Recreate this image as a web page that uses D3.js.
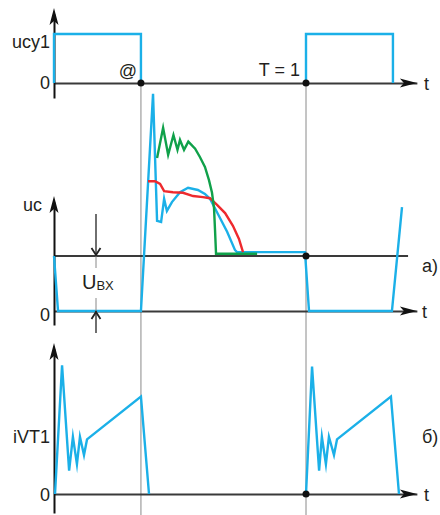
<!DOCTYPE html>
<html>
<head>
<meta charset="utf-8">
<script src="https://cdn.jsdelivr.net/npm/d3@7"></script>
<style>
    body { margin: 0; background: #fff; }
    text { font-family: "Liberation Sans", Arial, sans-serif; fill: #231f20; }
</style>
</head>
<body>
<svg id="chart" width="440" height="515"></svg>
<script>
// time is in periods, T = 1
const pulseStart = [0, 1];
const pulseEnd = [0.345, 1.345];
const markTimes = [0.345, 1];

// uc, in units of U_BX  [t, value]
const ucBlue = [
    [0, 1.0], [0.016, 0], [0.345, 0], [0.393, 3.95], [0.409, 1.64], [0.425, 1.62],
    [0.437, 2.04], [0.448, 1.82], [0.468, 1.98], [0.5, 2.16], [0.532, 2.24],
    [0.571, 2.2], [0.599, 2.13], [0.619, 2.04], [0.651, 1.76], [0.687, 1.44],
    [0.718, 1.11], [0.726, 1.07], [0.996, 1.07], [1.012, 0], [1.341, 0], [1.381, 1.89]
];
const ucGreen = [
    [0.409, 2.78], [0.433, 3.33], [0.453, 2.84], [0.474, 3.2], [0.49, 2.93],
    [0.5, 3.11], [0.516, 2.93], [0.533, 3.08],
    [0.56, 2.95], [0.579, 2.8], [0.599, 2.62], [0.615, 2.38], [0.627, 2.15],
    [0.635, 1.87], [0.639, 1.47], [0.643, 1.04], [0.806, 1.04]
];
const ucRed = [
    [0.373, 2.36], [0.401, 2.36], [0.421, 2.31], [0.437, 2.18], [0.472, 2.16],
    [0.512, 2.15], [0.552, 2.09], [0.591, 2.07], [0.619, 2.05], [0.647, 1.93],
    [0.679, 1.78], [0.71, 1.55], [0.734, 1.31], [0.75, 1.07]
];

// iVT1, relative  [t, value]
const iPulse1 = [
    [0.004, 0], [0.032, 0.99], [0.06, 0.18], [0.075, 0.44], [0.091, 0.23],
    [0.103, 0.44], [0.119, 0.3], [0.131, 0.42], [0.345, 0.75], [0.377, 0]
];
const iPulse2 = [
    [1.0, 0], [1.024, 0.98], [1.052, 0.18], [1.063, 0.44], [1.079, 0.23],
    [1.091, 0.44], [1.111, 0.3], [1.123, 0.42], [1.337, 0.75], [1.369, 0]
];

const BLUE = '#1bb0e8';
const GREEN = '#10a14a';
const RED = '#ee2a2e';
const AXIS = '#3a3a3a';

const svg = d3.select('#chart');

const x = d3.scaleLinear().domain([0, 1]).range([54, 306]);
const yTop = d3.scaleLinear().domain([0, 1]).range([83, 34]);
const yMid = d3.scaleLinear().domain([0, 1]).range([311, 256]);
const yBot = d3.scaleLinear().domain([0, 1]).range([494, 364]);

const tEnd = 1.44;

function arrowRight(px, py) {
    return `M${px},${py} L${px - 17},${py - 4.5} L${px - 13},${py} L${px - 17},${py + 4.5} Z`;
}
function arrowUp(px, py) {
    return `M${px},${py} L${px - 4.5},${py + 17} L${px},${py + 13} L${px + 4.5},${py + 17} Z`;
}

// grey marker lines first, so the axes sit on top
markTimes.forEach(t => {
    svg.append('line')
        .attr('x1', x(t)).attr('x2', x(t))
        .attr('y1', yTop(0)).attr('y2', 515)
        .attr('stroke', '#8a8a8a')
        .attr('stroke-width', 1);
});

function drawAxes(y, vTop, vBottom, hEnd) {
    const tScale = x.copy().domain([0, hEnd]).range([x(0), x(hEnd)]);
    const tAxis = svg.append('g')
        .attr('transform', `translate(0,${y(0)})`)
        .call(d3.axisBottom(tScale).tickValues([]).tickSizeOuter(0));
    tAxis.select('.domain').attr('stroke', AXIS).attr('stroke-width', 2);

    const vScale = y.copy().domain([vBottom, vTop]).range([y(vBottom), y(vTop) + 6]);
    const vAxis = svg.append('g')
        .attr('transform', `translate(${x(0)},0)`)
        .call(d3.axisLeft(vScale).tickValues([]).tickSizeOuter(0));
    vAxis.select('.domain').attr('stroke', '#111').attr('stroke-width', 2);

    svg.append('path').attr('d', arrowUp(x(0), y(vTop))).attr('fill', '#111');
    svg.append('path').attr('d', arrowRight(tScale(hEnd), y(0))).attr('fill', '#111');
}

const line = (y) => d3.line().x(d => x(d[0])).y(d => y(d[1]));

function drawSeries(data, y, color) {
    svg.append('path')
        .datum(data)
        .attr('d', line(y))
        .attr('fill', 'none')
        .attr('stroke', color)
        .attr('stroke-width', 2.4)
        .attr('stroke-linejoin', 'miter')
        .attr('stroke-miterlimit', 10);
}

// ---- top panel: ucy1
drawAxes(yTop, yTop.invert(8), yTop.invert(98), tEnd);
pulseStart.forEach((t0, i) => {
    const t1 = pulseEnd[i];
    drawSeries([[t0, 0], [t0, 1], [t1, 1], [t1, 0]], yTop, BLUE);
});

// ---- middle panel: uc
svg.append('line')
    .attr('x1', x(0)).attr('x2', x(1.405))
    .attr('y1', yMid(1)).attr('y2', yMid(1))
    .attr('stroke', AXIS).attr('stroke-width', 2);
drawAxes(yMid, yMid.invert(196), yMid.invert(325), tEnd);
drawSeries(ucBlue, yMid, BLUE);
drawSeries(ucRed, yMid, RED);
drawSeries(ucGreen, yMid, GREEN);

// U_BX dimension arrows
const ux = 96;
svg.append('line').attr('x1', ux).attr('x2', ux).attr('y1', 214).attr('y2', yMid(1))
    .attr('stroke', '#222').attr('stroke-width', 1.3);
svg.append('line').attr('x1', ux).attr('x2', ux).attr('y1', yMid(1)).attr('y2', 268)
    .attr('stroke', '#888').attr('stroke-width', 1);
svg.append('line').attr('x1', ux).attr('x2', ux).attr('y1', 298).attr('y2', yMid(0))
    .attr('stroke', '#888').attr('stroke-width', 1);
svg.append('line').attr('x1', ux).attr('x2', ux).attr('y1', yMid(0)).attr('y2', 333)
    .attr('stroke', '#222').attr('stroke-width', 1.3);
svg.append('path')
    .attr('d', `M${ux - 4.5},${yMid(1) - 8} L${ux},${yMid(1) - 1} L${ux + 4.5},${yMid(1) - 8}`)
    .attr('fill', 'none').attr('stroke', '#222').attr('stroke-width', 1.8);
svg.append('path')
    .attr('d', `M${ux - 4.5},${yMid(0) + 8} L${ux},${yMid(0) + 1} L${ux + 4.5},${yMid(0) + 8}`)
    .attr('fill', 'none').attr('stroke', '#222').attr('stroke-width', 1.8);

// ---- bottom panel: iVT1
drawAxes(yBot, yBot.invert(343), yBot.invert(513), tEnd);
drawSeries(iPulse1, yBot, BLUE);
drawSeries(iPulse2, yBot, BLUE);

// dots
[[markTimes[0], 0, yTop], [markTimes[1], 0, yTop], [markTimes[1], 1, yMid], [markTimes[1], 0, yBot]].forEach(d => {
    svg.append('circle')
        .attr('cx', x(d[0])).attr('cy', d[2](d[1]))
        .attr('r', 3.5).attr('fill', '#111');
});

// labels
const labels = [
    { t: 'ucy1', x: 50, y: 48, a: 'end' },
    { t: '0', x: 50, y: 89, a: 'end' },
    { t: '@', x: 128, y: 77, a: 'middle' },
    { t: 'T = 1', x: 300, y: 76, a: 'end' },
    { t: 't', x: 424, y: 90, a: 'start' },
    { t: 'uc', x: 42, y: 211, a: 'end' },
    { t: '0', x: 50, y: 321, a: 'end' },
    { t: 't', x: 422, y: 318, a: 'start' },
    { t: 'a)', x: 422, y: 272, a: 'start' },
    { t: 'iVT1', x: 50, y: 443, a: 'end' },
    { t: '0', x: 50, y: 501, a: 'end' },
    { t: 't', x: 424, y: 501, a: 'start' },
    { t: 'б)', x: 422, y: 443, a: 'start' }
];
labels.forEach(l => {
    svg.append('text')
        .attr('x', l.x).attr('y', l.y)
        .attr('text-anchor', l.a)
        .attr('font-size', 18)
        .text(l.t);
});

const ubx = svg.append('text').attr('x', 82).attr('y', 289).attr('font-size', 20);
ubx.append('tspan').text('U');
ubx.append('tspan').attr('font-size', 13).attr('dy', 1).text('BX');
</script>
</body>
</html>
